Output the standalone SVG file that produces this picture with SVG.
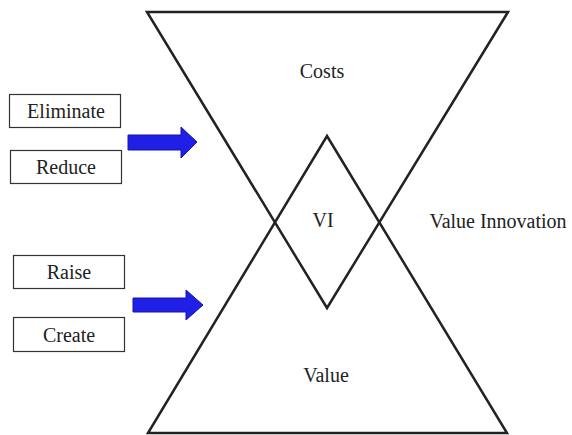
<svg xmlns="http://www.w3.org/2000/svg" width="572" height="435" viewBox="0 0 572 435">
<defs>
<style>
.ln{fill:none;stroke:#222;stroke-width:2.5;stroke-linejoin:miter}
.box{fill:#fff;stroke:#333;stroke-width:1.2}
.t{font-family:"Liberation Serif","Times New Roman",serif;font-size:20px;fill:#222;text-anchor:middle}
.arr{fill:#1f1fe6;stroke:#1515b0;stroke-width:1}
</style>
</defs>
<rect width="572" height="435" fill="#fff"/>
<g id="shapes">
<polygon id="costs-triangle" class="ln" points="147,12 508,12 327,308"/>
<polygon id="value-triangle" class="ln" points="148,433 507,433 327,136"/>
</g>
<g id="connectors">
<polygon class="arr" points="128,135 181,135 181,127 197,142 181,158 181,150 128,150"/>
<polygon class="arr" points="133,298 186,298 186,290 203,305 186,320 186,312 133,312"/>
</g>
<g id="node-eliminate"><rect class="box" x="9.5" y="94.5" width="111" height="33"/><text class="t" x="66" y="118">Eliminate</text></g>
<g id="node-reduce"><rect class="box" x="10.5" y="150.5" width="111" height="33"/><text class="t" x="66" y="174">Reduce</text></g>
<g id="node-raise"><rect class="box" x="13.5" y="255.5" width="111" height="33"/><text class="t" x="69" y="279">Raise</text></g>
<g id="node-create"><rect class="box" x="13.5" y="317.5" width="111" height="34"/><text class="t" x="69" y="342">Create</text></g>
<g id="labels">
<text class="t" x="322" y="78">Costs</text>
<text class="t" x="323" y="227">VI</text>
<text class="t" x="498" y="228">Value Innovation</text>
<text class="t" x="326" y="382">Value</text>
</g>
</svg>
